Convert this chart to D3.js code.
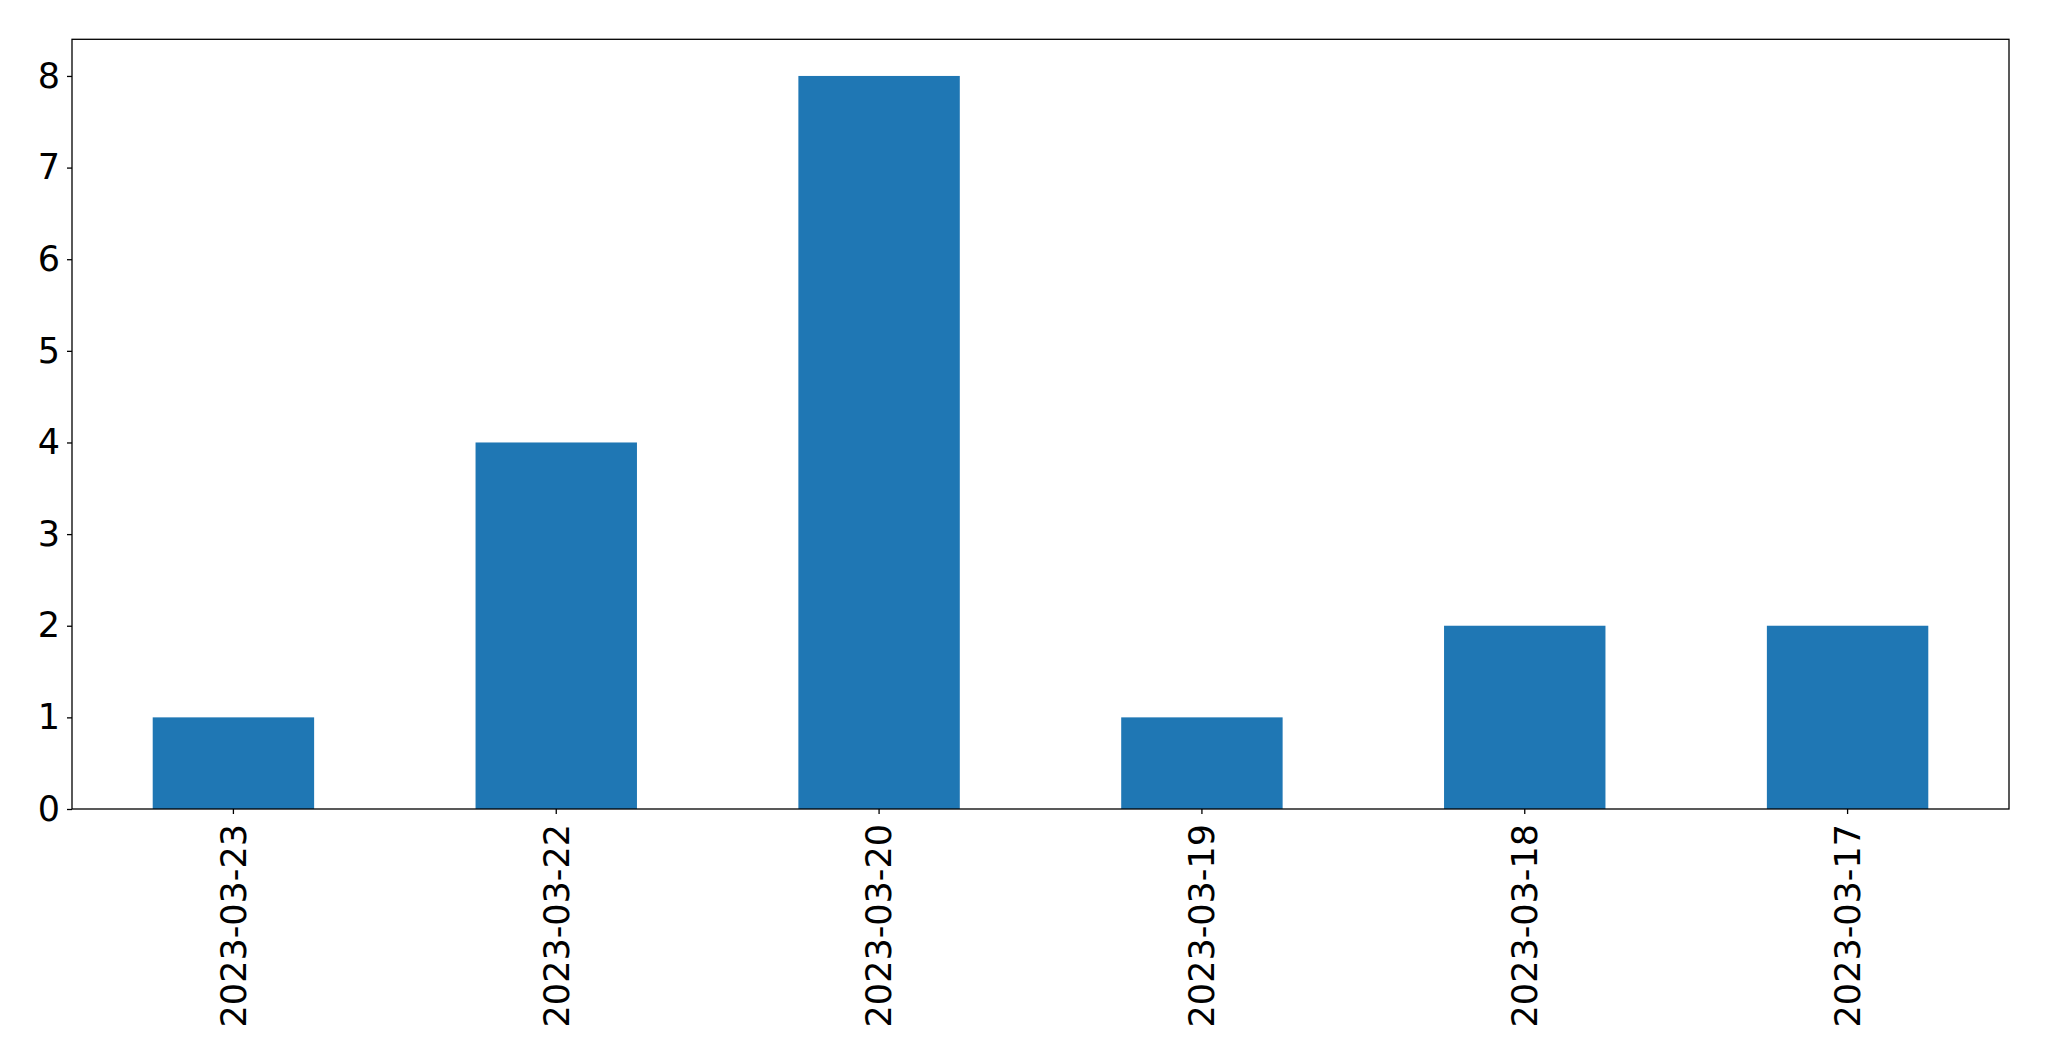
<!DOCTYPE html>
<html>
<head>
<meta charset="utf-8">
<script src="https://cdn.jsdelivr.net/npm/d3@7"></script>
<style>
html,body{margin:0;padding:0;background:#fff;}
svg{display:block;}
</style>
</head>
<body>
<svg id="chart" width="2049" height="1061"></svg>
<script>
const categories = ["2023-03-23","2023-03-22","2023-03-20","2023-03-19","2023-03-18","2023-03-17"];
const values = [1,4,8,1,2,2];
const yTicks = [0,1,2,3,4,5,6,7,8];

const W = 2049, H = 1061;
const m = {left:72, right:W-2009, top:39.3, bottom:H-809};
const iw = W - m.left - m.right, ih = H - m.top - m.bottom;
const fontSize = 35;
const font = "'DejaVu Sans', sans-serif";

const svg = d3.select("#chart");
const g = svg.append("g").attr("transform", `translate(${m.left},${m.top})`);

const x = d3.scaleBand().domain(categories).range([0, iw]).paddingInner(0.5).paddingOuter(0.25);
const y = d3.scaleLinear().domain([0, 8.4]).range([ih, 0]);

g.selectAll("rect.bar").data(values).enter().append("rect")
  .attr("class","bar")
  .attr("x", (d,i) => x(categories[i]))
  .attr("width", x.bandwidth())
  .attr("y", d => y(d))
  .attr("height", d => ih - y(d))
  .attr("fill", "#1f77b4");

// frame
g.append("rect").attr("x",0).attr("y",0).attr("width",iw).attr("height",ih)
  .attr("fill","none").attr("stroke","#000").attr("stroke-width",1.3);

const yAxis = g.append("g").call(d3.axisLeft(y).tickValues(yTicks).tickFormat(d3.format("d")).tickSize(5).tickPadding(7));
yAxis.select(".domain").remove();
yAxis.selectAll("line").attr("stroke","#000").attr("stroke-width",1.3);
yAxis.selectAll("text").attr("font-family",font).attr("font-size",fontSize).attr("fill","#000");

const xAxis = g.append("g").attr("transform",`translate(0,${ih})`)
  .call(d3.axisBottom(x).tickSize(5).tickPadding(0));
xAxis.select(".domain").remove();
xAxis.selectAll("line").attr("stroke","#000").attr("stroke-width",1.3);
xAxis.selectAll("text")
  .attr("font-family",font).attr("font-size",fontSize).attr("fill","#000")
  .attr("transform","rotate(-90)")
  .attr("text-anchor","end")
  .attr("dy","0.35em")
  .attr("x",-15)
  .attr("y",0);
</script>
</body>
</html>
